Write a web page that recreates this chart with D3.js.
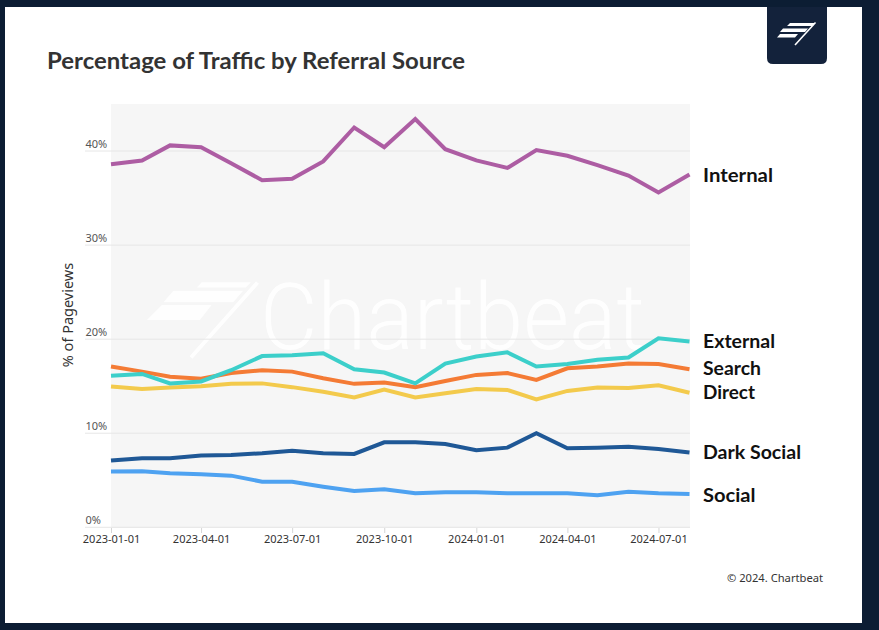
<!DOCTYPE html>
<html><head><meta charset="utf-8">
<script src="https://cdn.jsdelivr.net/npm/d3@7"></script>
<style>
html,body{margin:0;padding:0;background:#0c1d33;}
svg{display:block;}
</style></head>
<body>
<svg id="chart" width="879" height="630"></svg>
<script>
// ---- data ----
const months = ["2023-01-01","2023-02-01","2023-03-01","2023-04-01","2023-05-01","2023-06-01","2023-07-01","2023-08-01","2023-09-01","2023-10-01","2023-11-01","2023-12-01","2024-01-01","2024-02-01","2024-03-01","2024-04-01","2024-05-01","2024-06-01","2024-07-01","2024-08-01"];
const internal   = [38.6,39.0,40.6,40.4,38.7,36.9,37.05,38.9,42.5,40.4,43.4,40.2,39.0,38.2,40.1,39.5,38.5,37.4,35.6,37.5];
const external   = [16.1,16.3,15.3,15.5,16.7,18.2,18.3,18.5,16.8,16.45,15.3,17.4,18.15,18.6,17.1,17.35,17.8,18.05,20.1,19.75];
const search     = [17.1,16.55,16.0,15.8,16.4,16.7,16.55,15.85,15.25,15.4,14.9,15.55,16.2,16.4,15.67,16.9,17.1,17.4,17.35,16.8];
const direct     = [14.96,14.7,14.85,15.0,15.25,15.3,14.9,14.4,13.8,14.65,13.8,14.25,14.7,14.6,13.6,14.5,14.85,14.8,15.1,14.3];
const darkSocial = [7.09,7.34,7.34,7.62,7.69,7.87,8.15,7.87,7.8,9.04,9.04,8.86,8.2,8.47,10.0,8.4,8.47,8.57,8.33,7.94];
const social     = [5.92,5.97,5.74,5.64,5.49,4.85,4.85,4.32,3.86,4.04,3.62,3.72,3.72,3.62,3.62,3.62,3.4,3.79,3.62,3.55];
const seriesNames = ["Internal","External","Search","Direct","Dark Social","Social"];
const yTicks = [0,10,20,30,40];
const xTicks = ["2023-01-01","2023-04-01","2023-07-01","2023-10-01","2024-01-01","2024-04-01","2024-07-01"];

// ---- styles ----
const colors = {"Internal":"#ad5da3","External":"#3ccfca","Search":"#f47b35","Direct":"#f3ca4c","Dark Social":"#1f5896","Social":"#4ea2f1"};
const labelY = {"Internal":181.7,"External":348.3,"Search":375,"Direct":399.3,"Dark Social":459.3,"Social":501.7};
const labelW = {"Internal":70,"External":72,"Search":58,"Direct":52,"Dark Social":98,"Social":52.5};

const svg = d3.select("#chart");
const parse = d3.utcParse("%Y-%m-%d");
const dates = months.map(parse);
const seriesVals = [internal, external, search, direct, darkSocial, social];

// frame
svg.append("rect").attr("x",0).attr("y",0).attr("width",879).attr("height",630).attr("fill","#0c1d33");
svg.append("rect").attr("x",5).attr("y",7).attr("width",857).attr("height",616).attr("fill","#ffffff");

// logo top-right
const lg = svg.append("g");
lg.append("path").attr("d","M767,7 H827 V58 Q827,64 821,64 H773 Q767,64 767,58 Z").attr("fill","#13223b");
lg.append("path").attr("fill","#ffffff").attr("d","M790,23 L815,23 L812,26 L787,26 Z M783,28.5 L808,28.5 L805,32 L780,32 Z M780,34 L798,34 L795,37.5 L777,37.5 Z");
lg.append("line").attr("x1",815.5).attr("y1",22.5).attr("x2",795).attr("y2",45).attr("stroke","#fff").attr("stroke-width",1.6);

// title
svg.append("text").attr("x",47).attr("y",68.5).text("Percentage of Traffic by Referral Source")
  .attr("font-family","Lato, 'Open Sans', sans-serif").attr("font-weight",700).attr("font-size",22)
  .attr("fill","#333").attr("textLength",418).attr("lengthAdjust","spacingAndGlyphs");

// scales
const x = d3.scaleUtc().domain([parse("2023-01-01"), parse("2024-08-01")]).range([111, 689.5]);
const y = d3.scaleLinear().domain([0,45]).range([527.3, 104]);

// plot background
svg.append("rect").attr("x",111).attr("y",104).attr("width",579).attr("height",424).attr("fill","#f6f6f6");

// watermark
const wm = svg.append("g").attr("fill","#ffffff").attr("opacity",0.9);
wm.append("path").attr("d","M201.7,282.3 L251,282.3 L246,287.5 L196.7,287.5 Z M173.3,290.7 L243.3,290.7 L233.3,302.3 L163.3,302.3 Z M161.7,305 L211.7,305 L200,320 L146.7,320 Z");
wm.append("line").attr("x1",257.5).attr("y1",282.5).attr("x2",191).attr("y2",357.5).attr("stroke","#fff").attr("stroke-width",4);
wm.append("text").attr("x",260).attr("y",349).text("Chartbeat")
  .attr("font-family","Roboto, Lato, sans-serif").attr("font-weight",300).attr("font-size",92)
  .attr("textLength",385).attr("lengthAdjust","spacingAndGlyphs");

// gridlines & y labels
const grid = svg.append("g");
grid.selectAll("line").data(yTicks).join("line")
  .attr("x1",85).attr("x2",690).attr("y1",d=>y(d)).attr("y2",d=>y(d))
  .attr("stroke","#e6e6e6").attr("stroke-width",1);
svg.append("g").selectAll("text").data(yTicks).join("text")
  .attr("x",85.5).attr("y",d=>y(d)-3).text(d=>d+"%")
  .attr("font-family","'Noto Sans', sans-serif").attr("font-size",11).attr("fill","#555");

// x axis
const xAxis = d3.axisBottom(x).tickValues(xTicks.map(parse)).tickFormat(d3.utcFormat("%Y-%m-%d")).tickSize(5).tickSizeOuter(0);
const xg = svg.append("g").attr("transform","translate(0,528)").call(xAxis);
xg.select(".domain").remove();
xg.selectAll(".tick line").attr("stroke","#d6d6d6");
xg.selectAll(".tick text").attr("font-family","'Noto Sans', sans-serif").attr("font-size",11).attr("fill","#333").attr("dy","0.5em").attr("y",9);

// y axis title
svg.append("text").attr("transform","translate(73,315) rotate(-90)").attr("text-anchor","middle")
  .text("% of Pageviews").attr("font-family","'Noto Sans', sans-serif").attr("font-size",14.5).attr("fill","#333");

// lines
const line = d3.line().x((d,i)=>x(dates[i])).y(d=>y(d));
const order = [5,4,3,2,1,0];
svg.append("g").selectAll("path").data(order).join("path")
  .attr("d",k=>line(seriesVals[k])).attr("fill","none")
  .attr("stroke",k=>colors[seriesNames[k]]).attr("stroke-width",4).attr("stroke-linejoin","miter");

// series labels
svg.append("g").selectAll("text").data(seriesNames).join("text")
  .attr("x",703).attr("y",d=>labelY[d]).text(d=>d)
  .attr("font-family","Lato, 'Open Sans', sans-serif").attr("font-weight",700).attr("font-size",19)
  .attr("fill","#111").attr("textLength",d=>labelW[d]).attr("lengthAdjust","spacingAndGlyphs");

// copyright
svg.append("text").attr("x",727).attr("y",581.5).text("© 2024. Chartbeat")
  .attr("font-family","'Noto Sans', sans-serif").attr("font-size",11.5).attr("fill","#333")
  .attr("textLength",96).attr("lengthAdjust","spacingAndGlyphs");
</script>
</body></html>
